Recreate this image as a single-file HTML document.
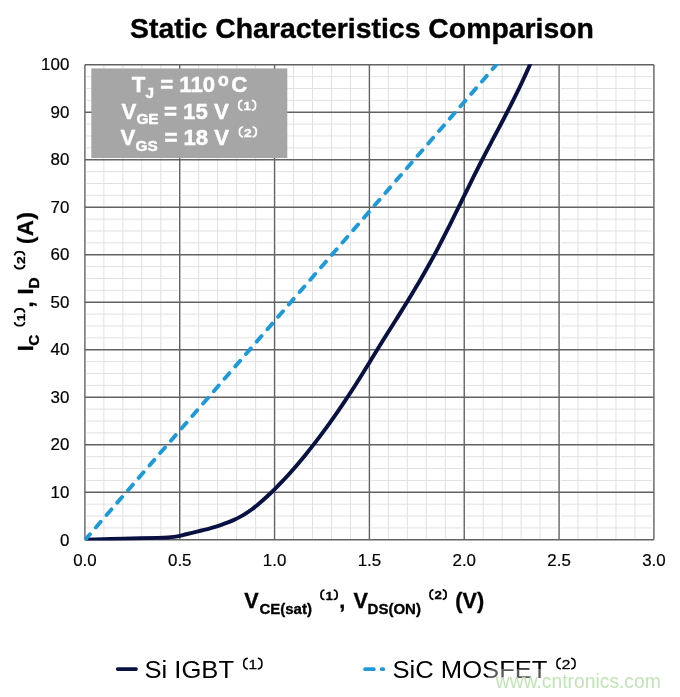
<!DOCTYPE html>
<html><head><meta charset="utf-8"><title>Static Characteristics Comparison</title>
<style>
html,body{margin:0;padding:0;background:#fff;}
body{width:680px;height:697px;overflow:hidden;font-family:"Liberation Sans",sans-serif;}
svg{display:block;will-change:transform;}
svg text{font-family:"Liberation Sans",sans-serif;}
</style></head><body>
<svg width="680" height="697" viewBox="0 0 680 697">
<rect x="0" y="0" width="680" height="697" fill="#ffffff"/>
<g stroke="#e1e1e1" stroke-width="1" fill="none">
<line x1="84.90" y1="527.92" x2="653.90" y2="527.92"/>
<line x1="84.90" y1="516.04" x2="653.90" y2="516.04"/>
<line x1="84.90" y1="504.17" x2="653.90" y2="504.17"/>
<line x1="84.90" y1="480.41" x2="653.90" y2="480.41"/>
<line x1="84.90" y1="468.53" x2="653.90" y2="468.53"/>
<line x1="84.90" y1="456.66" x2="653.90" y2="456.66"/>
<line x1="84.90" y1="432.90" x2="653.90" y2="432.90"/>
<line x1="84.90" y1="421.02" x2="653.90" y2="421.02"/>
<line x1="84.90" y1="409.15" x2="653.90" y2="409.15"/>
<line x1="84.90" y1="385.39" x2="653.90" y2="385.39"/>
<line x1="84.90" y1="373.51" x2="653.90" y2="373.51"/>
<line x1="84.90" y1="361.64" x2="653.90" y2="361.64"/>
<line x1="84.90" y1="337.88" x2="653.90" y2="337.88"/>
<line x1="84.90" y1="326.00" x2="653.90" y2="326.00"/>
<line x1="84.90" y1="314.13" x2="653.90" y2="314.13"/>
<line x1="84.90" y1="290.37" x2="653.90" y2="290.37"/>
<line x1="84.90" y1="278.50" x2="653.90" y2="278.50"/>
<line x1="84.90" y1="266.62" x2="653.90" y2="266.62"/>
<line x1="84.90" y1="242.86" x2="653.90" y2="242.86"/>
<line x1="84.90" y1="230.99" x2="653.90" y2="230.99"/>
<line x1="84.90" y1="219.11" x2="653.90" y2="219.11"/>
<line x1="84.90" y1="195.35" x2="653.90" y2="195.35"/>
<line x1="84.90" y1="183.47" x2="653.90" y2="183.47"/>
<line x1="84.90" y1="171.60" x2="653.90" y2="171.60"/>
<line x1="84.90" y1="147.84" x2="653.90" y2="147.84"/>
<line x1="84.90" y1="135.96" x2="653.90" y2="135.96"/>
<line x1="84.90" y1="124.09" x2="653.90" y2="124.09"/>
<line x1="84.90" y1="100.33" x2="653.90" y2="100.33"/>
<line x1="84.90" y1="88.45" x2="653.90" y2="88.45"/>
<line x1="84.90" y1="76.58" x2="653.90" y2="76.58"/>
</g>
<g stroke="#ffffff" stroke-width="3.6" fill="none">
<line x1="84.90" y1="64.70" x2="84.90" y2="539.80"/>
<line x1="179.73" y1="64.70" x2="179.73" y2="539.80"/>
<line x1="274.57" y1="64.70" x2="274.57" y2="539.80"/>
<line x1="369.40" y1="64.70" x2="369.40" y2="539.80"/>
<line x1="464.23" y1="64.70" x2="464.23" y2="539.80"/>
<line x1="559.07" y1="64.70" x2="559.07" y2="539.80"/>
<line x1="653.90" y1="64.70" x2="653.90" y2="539.80"/>
</g>
<g stroke="#e1e1e1" stroke-width="1" fill="none">
<line x1="103.87" y1="64.70" x2="103.87" y2="539.80"/>
<line x1="122.83" y1="64.70" x2="122.83" y2="539.80"/>
<line x1="141.80" y1="64.70" x2="141.80" y2="539.80"/>
<line x1="160.77" y1="64.70" x2="160.77" y2="539.80"/>
<line x1="198.70" y1="64.70" x2="198.70" y2="539.80"/>
<line x1="217.67" y1="64.70" x2="217.67" y2="539.80"/>
<line x1="236.63" y1="64.70" x2="236.63" y2="539.80"/>
<line x1="255.60" y1="64.70" x2="255.60" y2="539.80"/>
<line x1="293.53" y1="64.70" x2="293.53" y2="539.80"/>
<line x1="312.50" y1="64.70" x2="312.50" y2="539.80"/>
<line x1="331.47" y1="64.70" x2="331.47" y2="539.80"/>
<line x1="350.43" y1="64.70" x2="350.43" y2="539.80"/>
<line x1="388.37" y1="64.70" x2="388.37" y2="539.80"/>
<line x1="407.33" y1="64.70" x2="407.33" y2="539.80"/>
<line x1="426.30" y1="64.70" x2="426.30" y2="539.80"/>
<line x1="445.27" y1="64.70" x2="445.27" y2="539.80"/>
<line x1="483.20" y1="64.70" x2="483.20" y2="539.80"/>
<line x1="502.17" y1="64.70" x2="502.17" y2="539.80"/>
<line x1="521.13" y1="64.70" x2="521.13" y2="539.80"/>
<line x1="540.10" y1="64.70" x2="540.10" y2="539.80"/>
<line x1="578.03" y1="64.70" x2="578.03" y2="539.80"/>
<line x1="597.00" y1="64.70" x2="597.00" y2="539.80"/>
<line x1="615.97" y1="64.70" x2="615.97" y2="539.80"/>
<line x1="634.93" y1="64.70" x2="634.93" y2="539.80"/>
</g>
<g stroke="#626262" stroke-width="1.4" fill="none">
<line x1="84.90" y1="64.70" x2="84.90" y2="539.80"/>
<line x1="179.73" y1="64.70" x2="179.73" y2="539.80"/>
<line x1="274.57" y1="64.70" x2="274.57" y2="539.80"/>
<line x1="369.40" y1="64.70" x2="369.40" y2="539.80"/>
<line x1="464.23" y1="64.70" x2="464.23" y2="539.80"/>
<line x1="559.07" y1="64.70" x2="559.07" y2="539.80"/>
<line x1="653.90" y1="64.70" x2="653.90" y2="539.80"/>
<line x1="84.90" y1="539.80" x2="653.90" y2="539.80"/>
<line x1="84.90" y1="492.29" x2="653.90" y2="492.29"/>
<line x1="84.90" y1="444.78" x2="653.90" y2="444.78"/>
<line x1="84.90" y1="397.27" x2="653.90" y2="397.27"/>
<line x1="84.90" y1="349.76" x2="653.90" y2="349.76"/>
<line x1="84.90" y1="302.25" x2="653.90" y2="302.25"/>
<line x1="84.90" y1="254.74" x2="653.90" y2="254.74"/>
<line x1="84.90" y1="207.23" x2="653.90" y2="207.23"/>
<line x1="84.90" y1="159.72" x2="653.90" y2="159.72"/>
<line x1="84.90" y1="112.21" x2="653.90" y2="112.21"/>
<line x1="84.90" y1="64.70" x2="653.90" y2="64.70"/>
</g>
<defs><clipPath id="pc"><rect x="84.50" y="64.20" width="569.80" height="476.20"/></clipPath></defs>
<g clip-path="url(#pc)" fill="none">
<path d="M85.30 539.60 C89.42 539.50 100.88 539.22 110.00 539.00 C119.12 538.78 132.07 538.48 140.00 538.30 C147.93 538.12 152.93 538.03 157.60 537.90 C162.27 537.77 165.25 537.67 168.00 537.50 C170.75 537.33 172.10 537.18 174.10 536.90 C176.10 536.62 178.02 536.29 180.00 535.85 C181.98 535.41 184.00 534.78 186.00 534.27 C188.00 533.77 190.00 533.28 192.00 532.80 C194.00 532.31 196.00 531.84 198.00 531.35 C200.00 530.86 202.00 530.38 204.00 529.87 C206.00 529.36 208.00 528.85 210.00 528.31 C212.00 527.76 214.00 527.20 216.00 526.59 C218.00 525.98 220.00 525.35 222.00 524.66 C224.00 523.97 226.00 523.24 228.00 522.45 C230.00 521.65 232.00 520.81 234.00 519.88 C236.00 518.95 238.00 517.96 240.00 516.87 C242.00 515.78 244.00 514.62 246.00 513.34 C248.00 512.07 250.00 510.69 252.00 509.22 C254.00 507.75 256.00 506.15 258.00 504.50 C260.00 502.85 262.00 501.10 264.00 499.31 C266.00 497.52 268.00 495.66 270.00 493.76 C272.00 491.86 274.00 489.90 276.00 487.90 C278.00 485.89 280.00 483.84 282.00 481.73 C284.00 479.63 286.00 477.47 288.00 475.27 C290.00 473.07 292.00 470.81 294.00 468.52 C296.00 466.22 298.00 463.88 300.00 461.49 C302.00 459.11 304.00 456.67 306.00 454.20 C308.00 451.73 310.00 449.21 312.00 446.65 C314.00 444.10 316.00 441.50 318.00 438.86 C320.00 436.22 322.00 433.54 324.00 430.83 C326.00 428.11 328.00 425.36 330.00 422.57 C332.00 419.78 334.00 416.96 336.00 414.10 C338.00 411.23 340.00 408.34 342.00 405.40 C344.00 402.46 346.00 399.48 348.00 396.45 C350.00 393.43 352.00 390.37 354.00 387.26 C356.00 384.14 358.00 380.98 360.00 377.78 C362.00 374.59 364.00 371.33 366.00 368.08 C368.00 364.82 370.00 361.53 372.00 358.26 C374.00 355.00 376.00 351.72 378.00 348.48 C380.00 345.24 382.00 342.03 384.00 338.83 C386.00 335.63 388.00 332.45 390.00 329.27 C392.00 326.08 394.00 322.92 396.00 319.73 C398.00 316.54 400.00 313.36 402.00 310.15 C404.00 306.93 406.00 303.72 408.00 300.46 C410.00 297.20 412.00 293.92 414.00 290.59 C416.00 287.26 418.00 283.90 420.00 280.48 C422.00 277.06 424.00 273.60 426.00 270.06 C428.00 266.53 430.00 262.94 432.00 259.27 C434.00 255.61 436.00 251.86 438.00 248.05 C440.00 244.25 442.00 240.36 444.00 236.44 C446.00 232.52 448.00 228.54 450.00 224.54 C452.00 220.53 454.00 216.48 456.00 212.43 C458.00 208.38 460.00 204.30 462.00 200.23 C464.00 196.16 466.00 192.08 468.00 188.02 C470.00 183.97 472.00 179.92 474.00 175.91 C476.00 171.90 478.00 167.92 480.00 163.99 C482.00 160.06 484.00 156.19 486.00 152.35 C488.00 148.51 490.00 144.73 492.00 140.94 C494.00 137.16 496.00 133.41 498.00 129.63 C500.00 125.84 502.00 122.08 504.00 118.25 C506.00 114.42 508.00 110.58 510.00 106.66 C512.00 102.74 514.00 98.78 516.00 94.71 C518.00 90.65 520.00 86.52 522.00 82.26 C524.00 78.00 526.00 73.65 528.00 69.15 C530.00 64.64 533.00 57.55 534.00 55.23" stroke="#091142" stroke-width="3.95" stroke-linecap="butt" stroke-linejoin="round"/>
<path d="M85.1 539.8 L496.8 64.3" stroke="#1e9ad8" stroke-width="3.9" stroke-linecap="round" stroke-dasharray="7.4 8.985"/>
</g>
<rect x="91.3" y="68.4" width="196" height="89.6" fill="#a6a6a6"/>
<g fill="#ffffff" stroke="#ffffff" stroke-width="0.45" font-weight="bold" font-size="22.2">
<text x="131.8" y="91.9">T</text><text x="145.6" y="98" font-size="15.4">J</text><text x="160.2" y="91.9">= 110</text><text x="218.1" y="85.6" font-size="17.6" stroke-width="0.6">o</text><text x="231.2" y="91.9">C</text>
<text x="121.4" y="118.6">V</text><text x="136.4" y="124.4" font-size="15.4">GE</text><text x="164" y="118.6">= 15 V</text>
<text x="120.6" y="144.9">V</text><text x="135.6" y="150.7" font-size="15.4">GS</text><text x="164.4" y="144.9">= 18 V</text>
</g>
<g ><path d="M241.70 100.40 C239.81 101.09 238.80 102.36 238.80 104.12 L238.80 106.48 C238.80 108.24 239.81 109.51 241.70 110.20 M252.60 100.40 C254.48 101.09 255.50 102.36 255.50 104.12 L255.50 106.48 C255.50 108.24 254.48 109.51 252.60 110.20" fill="none" stroke="#ffffff" stroke-width="1.80" stroke-linecap="round"/><text transform="translate(247.15 110.25) scale(1.18 1)" text-anchor="middle" font-size="11.70" font-weight="bold" fill="#ffffff" stroke="#ffffff" stroke-width="0.30">1</text></g>
<g ><path d="M242.40 127.00 C240.51 127.69 239.50 128.96 239.50 130.72 L239.50 133.08 C239.50 134.84 240.51 136.11 242.40 136.80 M253.30 127.00 C255.19 127.69 256.20 128.96 256.20 130.72 L256.20 133.08 C256.20 134.84 255.19 136.11 253.30 136.80" fill="none" stroke="#ffffff" stroke-width="1.80" stroke-linecap="round"/><text transform="translate(247.85 136.85) scale(1.18 1)" text-anchor="middle" font-size="11.70" font-weight="bold" fill="#ffffff" stroke="#ffffff" stroke-width="0.30">2</text></g>
<text x="362" y="38.2" text-anchor="middle" font-weight="bold" font-size="28.4" fill="#000" stroke="#000" stroke-width="0.4">Static Characteristics Comparison</text>
<g font-size="16.9" fill="#000" stroke="#000" stroke-width="0.2" text-anchor="end">
<text x="69.3" y="545.50">0</text>
<text x="69.3" y="497.99">10</text>
<text x="69.3" y="450.48">20</text>
<text x="69.3" y="402.97">30</text>
<text x="69.3" y="355.46">40</text>
<text x="69.3" y="307.95">50</text>
<text x="69.3" y="260.44">60</text>
<text x="69.3" y="212.93">70</text>
<text x="69.3" y="165.42">80</text>
<text x="69.3" y="117.91">90</text>
<text x="69.3" y="70.40">100</text>
</g>
<g font-size="16.9" fill="#000" stroke="#000" stroke-width="0.2" text-anchor="middle">
<text x="84.90" y="566">0.0</text>
<text x="179.73" y="566">0.5</text>
<text x="274.57" y="566">1.0</text>
<text x="369.40" y="566">1.5</text>
<text x="464.23" y="566">2.0</text>
<text x="559.07" y="566">2.5</text>
<text x="653.90" y="566">3.0</text>
</g>
<g font-weight="bold" fill="#000" stroke="#000" stroke-width="0.35" font-size="21.6">
<text x="244.3" y="607.8">V</text><text x="259.4" y="613.8" font-size="15">CE(sat)</text><text x="339.3" y="607.8">,</text>
<text x="353.4" y="607.8">V</text><text x="367.6" y="613.8" font-size="15">DS(ON)</text><text x="455.3" y="607.8">(V)</text>
</g>
<g ><path d="M323.85 590.06 C322.04 590.72 321.06 591.95 321.06 593.64 L321.06 595.90 C321.06 597.59 322.04 598.81 323.85 599.47 M334.31 590.06 C336.12 590.72 337.10 591.95 337.10 593.64 L337.10 595.90 C337.10 597.59 336.12 598.81 334.31 599.47" fill="none" stroke="#000" stroke-width="1.73" stroke-linecap="round"/><text transform="translate(329.08 599.52) scale(1.18 1)" text-anchor="middle" font-size="11.23" font-weight="bold" fill="#000" stroke="#000" stroke-width="0.30">1</text></g>
<g ><path d="M432.85 589.86 C431.04 590.52 430.06 591.75 430.06 593.44 L430.06 595.70 C430.06 597.39 431.04 598.61 432.85 599.27 M443.31 589.86 C445.12 590.52 446.10 591.75 446.10 593.44 L446.10 595.70 C446.10 597.39 445.12 598.61 443.31 599.27" fill="none" stroke="#000" stroke-width="1.73" stroke-linecap="round"/><text transform="translate(438.08 599.32) scale(1.18 1)" text-anchor="middle" font-size="11.23" font-weight="bold" fill="#000" stroke="#000" stroke-width="0.30">2</text></g>
<g transform="translate(33.3 350.4) rotate(-90)">
<g font-weight="bold" fill="#000" stroke="#000" stroke-width="0.35" font-size="22">
<text x="-0.8" y="0">I</text><text x="4.7" y="5.4" font-size="15.4">C</text><text x="42.8" y="0">,</text><text x="55.8" y="0">I</text><text x="61.9" y="5.4" font-size="15.4">D</text><text x="106.4" y="0" letter-spacing="0.7">(A)</text>
</g>
<g ><path d="M27.60 -18.60 C25.71 -17.91 24.70 -16.64 24.70 -14.88 L24.70 -12.52 C24.70 -10.76 25.71 -9.49 27.60 -8.80 M38.50 -18.60 C40.38 -17.91 41.40 -16.64 41.40 -14.88 L41.40 -12.52 C41.40 -10.76 40.38 -9.49 38.50 -8.80" fill="none" stroke="#000" stroke-width="1.80" stroke-linecap="round"/><text transform="translate(33.05 -8.75) scale(1.18 1)" text-anchor="middle" font-size="11.70" font-weight="bold" fill="#000" stroke="#000" stroke-width="0.30">1</text></g>
<g ><path d="M84.80 -18.60 C82.92 -17.91 81.90 -16.64 81.90 -14.88 L81.90 -12.52 C81.90 -10.76 82.92 -9.49 84.80 -8.80 M95.70 -18.60 C97.58 -17.91 98.60 -16.64 98.60 -14.88 L98.60 -12.52 C98.60 -10.76 97.58 -9.49 95.70 -8.80" fill="none" stroke="#000" stroke-width="1.80" stroke-linecap="round"/><text transform="translate(90.25 -8.75) scale(1.18 1)" text-anchor="middle" font-size="11.70" font-weight="bold" fill="#000" stroke="#000" stroke-width="0.30">2</text></g>
</g>
<line x1="117.7" y1="669.1" x2="136" y2="669.1" stroke="#091142" stroke-width="3.7" stroke-linecap="round"/>
<text x="144.5" y="677.6" font-size="24.6" fill="#000" textLength="89.5" lengthAdjust="spacingAndGlyphs">Si IGBT</text>
<g ><path d="M247.21 658.27 C244.97 659.02 243.77 660.42 243.77 662.36 L243.77 664.94 C243.77 666.88 244.97 668.27 247.21 669.03 M258.40 658.27 C260.64 659.02 261.84 660.42 261.84 662.36 L261.84 664.94 C261.84 666.88 260.64 668.27 258.40 669.03" fill="none" stroke="#000" stroke-width="1.54" stroke-linecap="round"/><text transform="translate(252.81 668.89) scale(1.18 1)" text-anchor="middle" font-size="13.14" font-weight="normal" fill="#000" stroke="#000" stroke-width="0.30">1</text></g>
<line x1="365.1" y1="669.2" x2="373.8" y2="669.2" stroke="#1e9ad8" stroke-width="3.7" stroke-linecap="round"/>
<line x1="381.7" y1="669.2" x2="383.3" y2="669.2" stroke="#1e9ad8" stroke-width="3.7" stroke-linecap="round"/>
<text x="392.5" y="677.6" font-size="24.6" fill="#000" textLength="155" lengthAdjust="spacingAndGlyphs">SiC MOSFET</text>
<g ><path d="M560.41 658.27 C558.17 659.02 556.97 660.42 556.97 662.36 L556.97 664.94 C556.97 666.88 558.17 668.27 560.41 669.03 M571.60 658.27 C573.84 659.02 575.04 660.42 575.04 662.36 L575.04 664.94 C575.04 666.88 573.84 668.27 571.60 669.03" fill="none" stroke="#000" stroke-width="1.54" stroke-linecap="round"/><text transform="translate(566.00 668.89) scale(1.18 1)" text-anchor="middle" font-size="13.14" font-weight="normal" fill="#000" stroke="#000" stroke-width="0.30">2</text></g>
<rect x="488" y="669" width="192" height="28" fill="#ffffff" fill-opacity="0.35"/>
<text x="495.8" y="687.8" font-size="19.3" fill="#c1e4b6">www.cntronics.com</text>
</svg>
</body></html>
